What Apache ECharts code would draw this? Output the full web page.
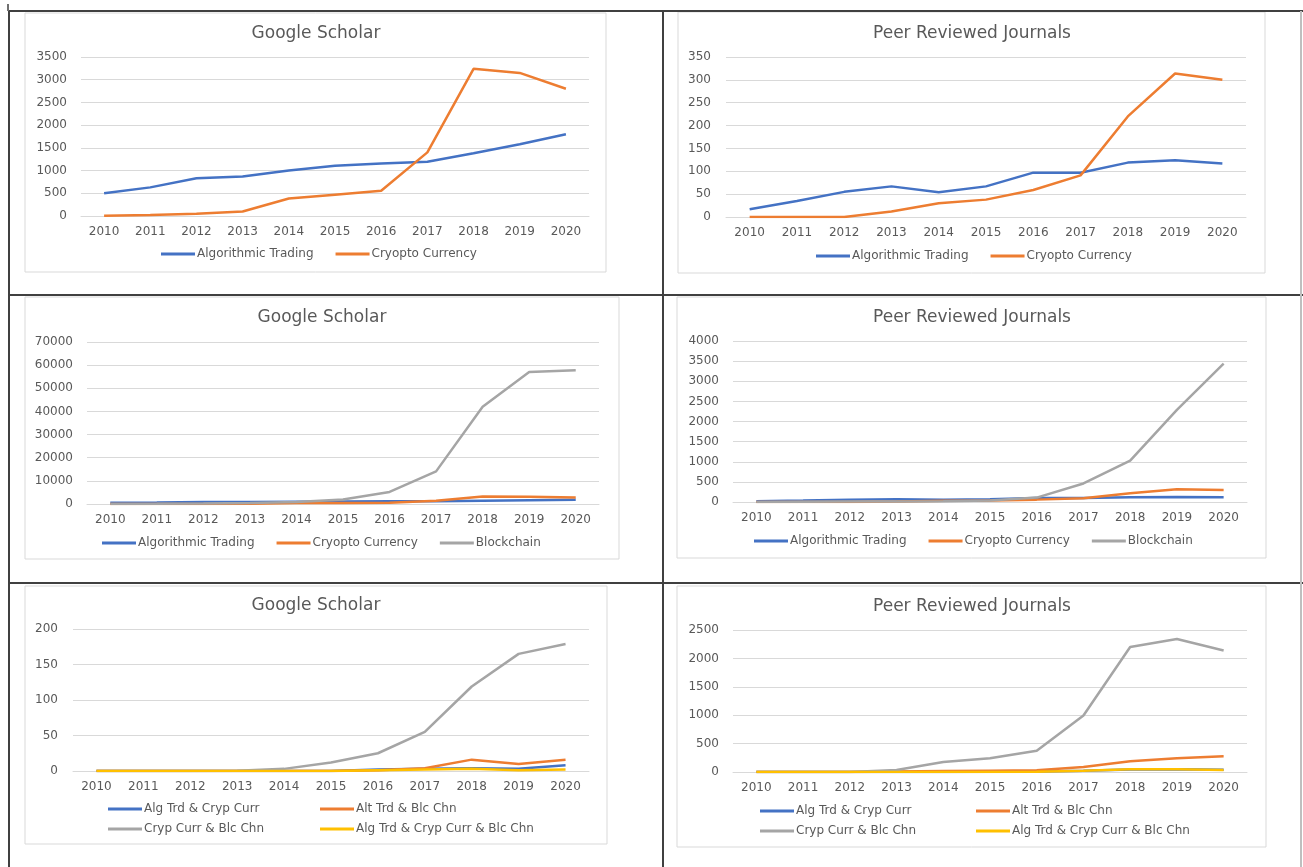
<!DOCTYPE html>
<html>
<head>
<meta charset="utf-8">
<script src="https://cdn.jsdelivr.net/npm/echarts@6/dist/echarts.min.js"></script>
<style>
html,body{margin:0;padding:0;background:#fff;}
#chart{width:1303px;height:867px;}
</style>
</head>
<body>
<div id="chart"></div>
<script>
// ---------- DATA ----------
const years = ['2010','2011','2012','2013','2014','2015','2016','2017','2018','2019','2020'];

// Google Scholar
const gsAlgorithmicTrading = [500, 630, 830, 870, 1000, 1105, 1155, 1195, 1380, 1580, 1800];
const gsCryoptoCurrency   = [5, 20, 50, 100, 385, 470, 555, 1400, 3240, 3150, 2800];
const gsBlockchain        = [50, 100, 200, 400, 900, 1900, 5200, 14100, 42000, 57000, 57800];

// Peer Reviewed Journals
const prjAlgorithmicTrading = [17, 35, 55, 67, 54, 67, 97, 97, 119, 124, 117];
const prjCryoptoCurrency    = [0, 0, 0, 12, 30, 38, 59, 91, 220, 314, 300];
const prjBlockchain         = [0, 5, 10, 15, 20, 40, 110, 460, 1030, 2290, 3440];

// Combinations - Google Scholar
const gsAlgCryp    = [0, 0, 0, 0, 0, 0, 2, 3, 4, 3, 8];
const gsAltBlc     = [0, 0, 0, 0, 0, 0, 1, 4, 16, 10, 16];
const gsCrypBlc    = [0, 0, 0, 0.5, 3, 12, 25, 55, 119, 165, 179];
const gsAlgCrypBlc = [0, 0, 0, 0, 0, 0, 1, 2, 3, 1, 2];

// Combinations - Peer Reviewed Journals
const prjAlgCryp    = [0, 0, 0, 0, 2, 4, 8, 22, 45, 48, 40];
const prjAltBlc     = [0, 0, 0, 10, 18, 24, 30, 88, 188, 241, 276];
const prjCrypBlc    = [0, 0, 0, 35, 176, 241, 376, 994, 2200, 2340, 2140];
const prjAlgCrypBlc = [0, 0, 0, 0, 0, 2, 6, 24, 47, 47, 35];

// Tick settings per panel: [max, interval]
const yTicks = [[3500, 500], [350, 50], [70000, 10000], [4000, 500], [200, 50], [2500, 500]];

const titles = ['Google Scholar', 'Peer Reviewed Journals', 'Google Scholar', 'Peer Reviewed Journals', 'Google Scholar', 'Peer Reviewed Journals'];

const nameAT = 'Algorithmic Trading';
const nameCC = 'Cryopto Currency';
const nameBC = 'Blockchain';
const nameAC = 'Alg Trd & Cryp Curr';
const nameAB = 'Alt Trd & Blc Chn';
const nameCB = 'Cryp Curr & Blc Chn';
const nameACB = 'Alg Trd & Cryp Curr & Blc Chn';

// ---------- LAYOUT ----------
const BLUE = '#4472C4', ORANGE = '#ED7D31', GRAY = '#A5A5A5', YELLOW = '#FFC000';
const TXT = '#595959';
const FONT = 'DejaVu Sans';
const FS = 12;

const panels = [
  {grid:{left:81, top:57, width:508, height:159}, titleX:316, titleY:32, labelMargin:14,
   series:[[nameAT, gsAlgorithmicTrading, BLUE],[nameCC, gsCryoptoCurrency, ORANGE]],
   legends:[{left:161, top:248, data:[nameAT, nameCC], orient:'horizontal'}]},
  {grid:{left:726, top:57, width:520, height:160}, titleX:972, titleY:32, labelMargin:15,
   series:[[nameAT, prjAlgorithmicTrading, BLUE],[nameCC, prjCryoptoCurrency, ORANGE]],
   legends:[{left:816, top:250, data:[nameAT, nameCC], orient:'horizontal'}]},
  {grid:{left:87, top:342, width:512, height:162}, titleX:322, titleY:316, labelMargin:14,
   series:[[nameAT, gsAlgorithmicTrading, BLUE],[nameCC, gsCryoptoCurrency, ORANGE],[nameBC, gsBlockchain, GRAY]],
   legends:[{left:102, top:537, data:[nameAT, nameCC, nameBC], orient:'horizontal'}]},
  {grid:{left:733, top:341, width:514, height:161}, titleX:972, titleY:316, labelMargin:14,
   series:[[nameAT, prjAlgorithmicTrading, BLUE],[nameCC, prjCryoptoCurrency, ORANGE],[nameBC, prjBlockchain, GRAY]],
   legends:[{left:754, top:535, data:[nameAT, nameCC, nameBC], orient:'horizontal'}]},
  {grid:{left:73, top:629, width:516, height:142}, titleX:316, titleY:604, labelMargin:15,
   series:[[nameAC, gsAlgCryp, BLUE],[nameAB, gsAltBlc, ORANGE],[nameCB, gsCrypBlc, GRAY],[nameACB, gsAlgCrypBlc, YELLOW]],
   legends:[{left:108, top:803, data:[nameAC, nameCB], orient:'vertical'},
            {left:320, top:803, data:[nameAB, nameACB], orient:'vertical'}]},
  {grid:{left:733, top:630, width:514, height:142}, titleX:972, titleY:605, labelMargin:14,
   series:[[nameAC, prjAlgCryp, BLUE],[nameAB, prjAltBlc, ORANGE],[nameCB, prjCrypBlc, GRAY],[nameACB, prjAlgCrypBlc, YELLOW]],
   legends:[{left:760, top:805, data:[nameAC, nameCB], orient:'vertical'},
            {left:976, top:805, data:[nameAB, nameACB], orient:'vertical'}]}
];

const boxes = [
  [25, 13, 581, 259], [678, 12, 587, 261],
  [25, 297, 594, 262], [677, 297, 589, 261],
  [25, 586, 582, 258], [677, 586, 589, 261]
];

const option = {
  animation: false,
  backgroundColor: '#fff',
  textStyle: {fontFamily: FONT},
  title: [], grid: [], xAxis: [], yAxis: [], series: [], legend: [],
  graphic: []
};

panels.forEach((p, i) => {
  option.title.push({
    text: titles[i], left: p.titleX, top: p.titleY - 7, textAlign: 'center', padding: 0,
    textStyle: {fontFamily: FONT, fontSize: 17, fontWeight: 'normal', color: TXT}
  });
  option.grid.push(Object.assign({containLabel: false}, p.grid));
  option.xAxis.push({
    type: 'category', gridIndex: i, data: years, boundaryGap: true,
    axisLine: {show: true, lineStyle: {color: '#D9D9D9', width: 1}},
    axisTick: {show: false},
    axisLabel: {color: TXT, fontSize: FS, fontFamily: FONT, margin: 10},
    splitLine: {show: false}
  });
  option.yAxis.push({
    type: 'value', gridIndex: i, min: 0, max: yTicks[i][0], interval: yTicks[i][1],
    axisLine: {show: false}, axisTick: {show: false},
    axisLabel: {color: TXT, fontSize: FS, fontFamily: FONT, margin: p.labelMargin,
                formatter: v => String(v)},
    splitLine: {show: true, lineStyle: {color: '#D9D9D9', width: 1}}
  });
  p.series.forEach(s => {
    option.series.push({
      type: 'line', name: s[0], data: s[1], xAxisIndex: i, yAxisIndex: i,
      symbol: 'none', smooth: false,
      lineStyle: {color: s[2], width: 2.5},
      itemStyle: {color: s[2]}
    });
  });
  p.legends.forEach(l => {
    option.legend.push({
      left: l.left, top: l.top, orient: l.orient, data: l.data, padding: 0,
      itemWidth: 34, itemHeight: 3, itemGap: l.orient === 'vertical' ? 8 : 22,
      icon: 'rect',
      textStyle: {color: TXT, fontSize: FS, fontFamily: FONT, padding: [0, 0, 0, -3]}
    });
  });
});

// chart boxes (light grey frames)
boxes.forEach(b => {
  option.graphic.push({
    type: 'rect', shape: {x: b[0], y: b[1], width: b[2], height: b[3]},
    style: {fill: 'none', stroke: '#D9D9D9', lineWidth: 1}, z: -1, silent: true
  });
});

// table borders
const BORDER = '#404040';
const borderLines = [
  [8, 4, 8, 11],
  [9, 11, 1303, 11],
  [9, 295, 1303, 295],
  [9, 583, 1303, 583],
  [9, 11, 9, 867],
  [663, 11, 663, 867],
  [1301, 11, 1301, 867]
];
borderLines.forEach((l, k) => {
  option.graphic.push({
    type: 'line', shape: {x1: l[0], y1: l[1], x2: l[2], y2: l[3]},
    style: {stroke: k === 6 ? '#BFBFBF' : BORDER, lineWidth: k === 0 ? 1.5 : 2}, silent: true
  });
});

const chart = echarts.init(document.getElementById('chart'), null, {renderer: 'canvas'});
chart.setOption(option);
</script>
</body>
</html>
